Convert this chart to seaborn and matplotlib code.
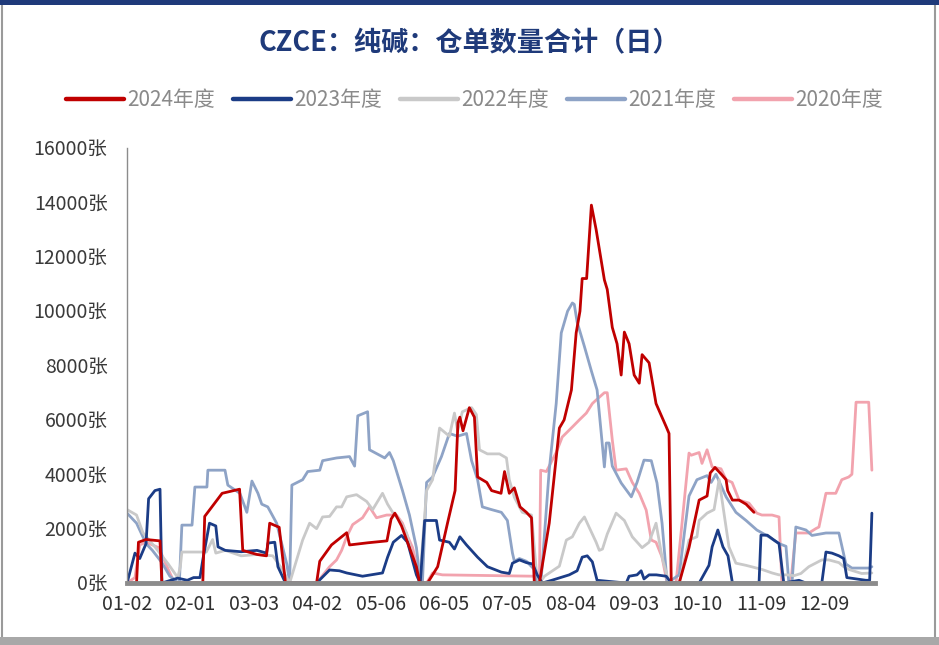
import numpy as np
import pandas as pd
import matplotlib
matplotlib.use("Agg")
import matplotlib.pyplot as plt
from matplotlib.patches import Rectangle
from matplotlib.lines import Line2D
import seaborn as sns

# 交易日序号（x轴），仓单数量（张）——从原图读取
tick_days = [0, 20, 40, 60, 80, 100, 120, 140, 160, 180, 200, 220]
tick_labels = ['01-02', '02-01', '03-03', '04-02', '05-06', '06-05',
               '07-05', '08-04', '09-03', '10-10', '11-09', '12-09']

d2024 = [0, 3, 3.6, 6, 10.4, 11, 23.9, 24.5, 30, 35.5, 36.5, 41, 44, 45, 48, 50,
         59.8, 60.8, 64.5, 69.3, 70.2, 76, 82, 83.3, 84.5, 86.6, 91.3, 92.3,
         94.8, 98, 101.1, 103.5, 104.4, 105, 106, 108, 109.6, 110.6, 113.5, 115,
         118, 119.1, 120.6, 122.2, 124, 126, 127.6, 128.5,
         130.1, 133.2, 136.4, 137.9, 140.2, 141.7, 142.9, 143.6, 145, 146.5, 148,
         150.6, 151.5, 153.1, 154.6, 155.9, 156.9, 158.4, 160, 161.6, 162.5,
         164.7, 166.9, 170.1, 171, 171.7,
         174.2, 177.3, 180.5, 183, 184, 185.5, 187.5, 189, 189.5, 191, 193.1, 195.3, 197.8]
v2024 = [0, 0, 1500, 1600, 1550, 0, 0, 2450, 3300, 3450, 1200, 1050, 1000, 2200, 2050, 0,
         0, 800, 1400, 1850, 1400, 1480, 1550, 2350, 2570, 2100, 600, 0,
         0, 600, 2200, 3400, 5900, 6100, 5600, 6450, 6100, 3900, 3700, 3400,
         3300, 4100, 3300, 3500, 2800, 2600, 2400, 0,
         0, 2200, 5700, 6000, 7100, 9200, 10000, 11200, 11200, 13900, 13000,
         11150, 10800, 9400, 8800, 7650, 9230, 8800, 7650, 7350, 8400,
         8100, 6600, 5750, 5500, 0,
         0, 1300, 3050, 3200, 4050, 4250, 4000, 3800, 3400, 3050, 3050, 2900, 2600]

d2023 = [0, 2.5, 4, 6, 6.8, 8.8, 10.4, 11, 16, 19, 21, 23, 23.9, 26, 28, 28.7, 31,
         36, 41, 44, 44.5, 46.6, 47.6, 50, 59.8, 63.9, 67, 69.3, 74.3, 80.6, 82.2,
         84, 86.6, 88.5, 91.3, 92.5, 93.9, 97.6, 98.6, 101.7, 103.3, 105, 107.1,
         110.6, 113.7, 118.1, 120.6, 121.6, 123.8, 126, 128, 129.4, 131, 134, 139.5,
         142, 143.6, 145.2, 146.8, 148.3, 157.5, 158.4, 160.9, 162.2, 163.1, 164.7,
         167, 170.1, 171.7, 180.5, 183.6, 184.6, 186.4, 188, 189.6, 191, 199.4,
         200, 202, 204.1, 205.7, 207.2, 212, 214.2, 219.2, 220.5, 222.4, 224.6,
         226.1, 227.1, 233.1, 234.3, 235]
v2023 = [0, 1100, 900, 1450, 3100, 3400, 3450, 0, 180, 100, 200, 200, 850, 2200, 2100, 1330, 1200,
         1150, 1200, 1100, 1470, 1500, 600, 0, 0, 480, 450, 370, 250, 370, 950,
         1500, 1750, 1500, 300, 0, 2300, 2300, 1580, 1500, 1250, 1700, 1400,
         950, 600, 400, 350, 730, 850, 750, 700, 300, 0, 100, 300,
         450, 950, 1000, 780, 100, 0, 250, 300, 450, 150, 300,
         300, 250, 0, 0, 650, 1330, 1950, 1330, 1000, 0, 0,
         1760, 1760, 1580, 1450, 0, 100, 0, 0, 1140, 1100, 1000,
         900, 200, 100, 100, 2570]

d2022 = [0, 3, 5, 9, 13, 16, 16.8, 17.3, 25, 27, 28, 31, 36, 41, 46, 49, 51.3,
         53.5, 55.4, 57.6, 59.8, 61.7, 63.9, 66.1, 67.7, 69.3, 72.4, 75.6, 77.5,
         80.6, 82.2, 83.8, 86, 88.2, 90.1, 92.3,
         94.5, 96.4, 98.6, 101.7, 103.3, 104.3, 105.8, 108.7, 110.2, 111.2, 113.7,
         117.5, 119.7, 120.6, 122.2, 124.7, 127.6, 129.1, 130.1,
         131.7, 136.4, 138.6, 140.5, 142.7, 144.3, 145.8, 148, 149, 150, 151.5,
         154.3, 156.9, 159.4, 162.5, 164.7, 166.9, 168.8, 171,
         174.2, 177.3, 179.8, 180.5, 183, 185.2, 186.8, 188.3, 189.9, 192.1, 195.3,
         200.3, 203.5, 205.7, 208.2, 210.4, 212.6, 215.1, 219.2, 221.4, 224.6,
         226.1, 227.7, 231.8, 235]
v2022 = [2700, 2500, 1850, 1300, 700, 200, 600, 1140, 1140, 1600, 1100, 1200, 1000, 1050, 1000, 500, 0,
         850, 1580, 2200, 2000, 2430, 2450, 2800, 2800, 3170, 3250, 3000, 2700,
         3300, 2900, 2600, 2300, 1840, 900, 0,
         3400, 3800, 5700, 5400, 6250, 5600, 6300, 6450, 6200, 4900, 4750,
         4750, 4600, 3800, 3150, 2600, 2500, 500, 0,
         250, 620, 1580, 1700, 2200, 2430, 2050, 1500, 1200, 1250, 1800,
         2570, 2300, 1700, 1300, 1500, 2200, 950, 0,
         0, 1580, 1700, 2300, 2570, 2700, 3800, 2600, 1330, 730, 650,
         500, 370, 300, 300, 270, 350, 600, 850, 850, 750,
         600, 500, 350, 370]

d2021 = [0, 3, 6, 8, 11, 13.5, 15.7, 16.5, 17.3, 20.5, 21.4, 25.2, 25.5, 30.9,
         31.8, 35.6, 37.8, 39.4, 41.3, 42.5, 44.4, 47.2, 50.4, 51.3,
         52, 55.4, 57, 60.8, 61.7, 66.1, 70.2, 71.8, 72.8, 75.9, 76.5, 81.3, 82.8,
         84, 86.9, 89.1, 91.3, 92.3, 93.2,
         94.5, 96.4, 99.2, 101.7, 104.3, 107.1, 108.7, 110.6, 112.1, 115, 118.1,
         120, 121.6, 122.2, 123.8, 126, 128.5, 129.4,
         130.7, 133.2, 135.4, 137, 139, 140.5, 141.1, 142, 144.3, 146.5, 148.3,
         149.9, 150.6, 151.2, 152.1, 153.1, 155.9, 159.1, 160.9, 163.1, 165.4,
         167.2, 168.8, 170.4,
         174.2, 177.3, 179.8, 183, 184.3, 185.8, 189, 192.1, 195.3, 198.7, 202.5,
         205.7, 207.9, 208.8, 209.8, 211, 214.2, 216.1, 220.5, 224.6, 226.8,
         228.7, 234, 235]
v2021 = [2570, 2200, 1450, 1200, 750, 250, 50, 0, 2130, 2130, 3530, 3530, 4150, 4150,
         3600, 3300, 2600, 3750, 3300, 2900, 2800, 2200, 700, 0,
         3600, 3800, 4100, 4150, 4500, 4600, 4650, 4300, 6150, 6300, 4900, 4600, 4800,
         4500, 3400, 2500, 1300, 300, 0,
         3700, 3900, 4650, 5500, 5400, 5500, 4500, 3800, 2800, 2700, 2600,
         2300, 1100, 800, 900, 800, 500, 0,
         200, 4150, 6600, 9200, 10000, 10300, 10250, 9600, 8700, 7800, 7100,
         5150, 4270, 5150, 5150, 4300, 3680, 3170, 3700, 4520, 4500,
         3680, 2200, 0,
         300, 3200, 3800, 3950, 3700, 4000, 3170, 2600, 2300, 1950, 1700,
         1450, 1350, 0, 0, 2060, 1950, 1750, 1840, 1840, 700,
         550, 550, 600]

d2020 = [0, 2.5, 4, 6, 10, 13, 15, 59.8, 63.9, 66.1, 67.7, 69.3, 71.2, 74.3, 76.5,
         78.7, 81.9, 85, 86.9, 88.2, 90.1, 91.3, 92.3, 93, 94.5, 96.4, 99.5,
         128.5, 129.1, 130.1, 130.5, 132.3, 135.4, 137.3, 140.5, 142.7, 144.9,
         146.8, 148, 150.6, 151.5, 153.1, 154.3, 157.5, 159.4, 161.6, 163.8, 165.4,
         166.9, 168.8, 170.4, 173.2, 175.1, 177.3, 178, 180.5, 181.4, 183, 184.6,
         187.4, 189, 190.9, 193.1, 196.2, 198.7, 200.3, 203.5, 205.7, 206.6,
         209.4, 211, 215.1, 217.3, 218.3, 220.5, 223.6, 225.5, 227.7, 228.7,
         230, 234, 235]
v2020 = [0, 200, 1400, 1500, 1300, 500, 0, 0, 600, 850, 1200, 1700, 2150, 2400, 2800,
         2400, 2500, 2500, 2200, 1800, 1300, 700, 200, 0, 0, 370, 300,
         250, 0, 0, 4150, 4100, 4800, 5370, 5740, 6000, 6250,
         6600, 6730, 7000, 7000, 5260, 4150, 4200, 3700, 3300, 2680, 1580,
         1500, 950, 0, 0, 2200, 4780, 4700, 4800, 4400, 4900, 4270,
         4200, 3800, 3700, 3050, 2940, 2570, 2500, 2500, 2430, 0,
         0, 1840, 1840, 2000, 2060, 3300, 3300, 3800, 3900, 4000,
         6650, 6650, 4150]

series = [
    ('2024年度', d2024, v2024, '#C00000', 2.0),
    ('2023年度', d2023, v2023, '#1B3C86', 2.0),
    ('2022年度', d2022, v2022, '#C9C9C9', 2.0),
    ('2021年度', d2021, v2021, '#8EA3C6', 2.0),
    ('2020年度', d2020, v2020, '#F2A3AE', 2.0),
]

sns.set_style('white')
plt.rcParams['font.family'] = ['Noto Sans CJK SC', 'DejaVu Sans']

fig = plt.figure(figsize=(9.39, 6.45), dpi=100)
ax = fig.add_axes([0.1353, 0.0961, 0.7966, 0.6744])

# 先画旧年度，2024年度在最上层
for name, d, v, color, lw in reversed(series):
    df = pd.DataFrame({'day': d, 'num': v})
    sns.lineplot(data=df, x='day', y='num', ax=ax, color=color, lw=lw,
                 estimator=None, sort=False, legend=False)

ax.set_xlim(0, 236)
ax.set_ylim(0, 16000)
ax.set_xlabel('')
ax.set_ylabel('')

yt = np.arange(0, 16001, 2000)
ax.set_yticks(yt)
ax.set_yticklabels([f'{v}张' for v in yt], fontsize=14, color='#3a3a3a')
ax.set_xticks(tick_days)
ax.set_xticklabels(tick_labels, fontsize=14, color='#303030')
ax.set_xticks(np.arange(9, 236, 10.85), minor=True)

for s in ['top', 'right']:
    ax.spines[s].set_visible(False)
ax.spines['left'].set_color('#8c8c8c')
ax.spines['left'].set_linewidth(1.0)
ax.spines['bottom'].set_color('#8c8c8c')
ax.spines['bottom'].set_linewidth(3.5)
ax.tick_params(axis='y', length=5, width=1, color='#8c8c8c', pad=9, direction='out')
ax.tick_params(axis='x', which='major', length=0, pad=8)
ax.tick_params(axis='x', which='minor', length=3, width=1, color='white', direction='in')

fig.text(0.5, 0.933, 'CZCE：纯碱：仓单数量合计（日）', ha='center', va='center',
         fontsize=19.5, fontweight='bold', color='#1F3A7A')

handles = [Line2D([0], [0], color=c, lw=3.2) for _, _, _, c, _ in series]
labels = [n for n, _, _, _, _ in series]
fig.legend(handles, labels, loc='center', bbox_to_anchor=(0.505, 0.845), ncol=5,
           frameon=False, fontsize=15, labelcolor='#8a8a8a', handlelength=2.8,
           handletextpad=0.15, columnspacing=0.85)

# 外框
fig.patches.append(Rectangle((0.002, 0.0), 0.994, 0.997, transform=fig.transFigure,
                             fill=False, edgecolor='#9a9a9a', lw=1.5))
fig.patches.append(Rectangle((0.0, 0.993), 1.0, 0.007, transform=fig.transFigure,
                             color='#1F3A7A', lw=0))
fig.patches.append(Rectangle((0.0, 0.0), 1.0, 0.012, transform=fig.transFigure,
                             color='#a8a8a8', lw=0))

fig.savefig('out.png', dpi=100)
plt.close(fig)
